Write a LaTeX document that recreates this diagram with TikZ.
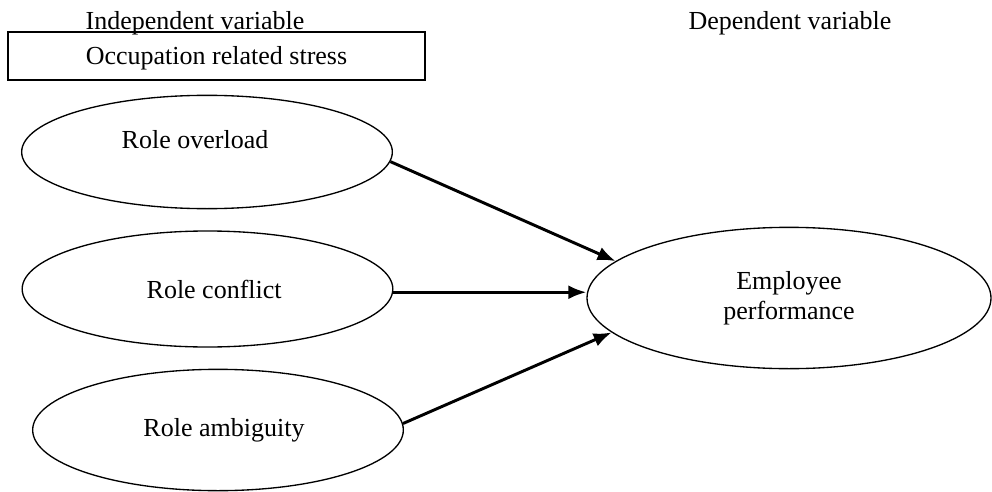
\documentclass[tikz,border=0pt]{standalone}
\usepackage{fontspec}
\setmainfont{Liberation Serif}
\usetikzlibrary{arrows.meta,shapes.geometric}

\begin{document}
\begin{tikzpicture}[x=0.75pt,y=-0.75pt,>={Latex[length=13.5pt,width=10.5pt]},
  every node/.style={font=\fontsize{19.5}{22.5}\selectfont},
  var/.style={draw,ellipse,line width=1pt,inner sep=0pt},
  link/.style={->,line width=2.2pt}]
  \useasboundingbox (0,0) rectangle (992,492);
  % headings
  \node (indep) at (195,23) {Independent variable};
  \node (dep) at (790,23) {Dependent variable};
  \node[draw,line width=1.3pt,minimum width=313pt,minimum height=36pt,text depth=1pt] (stress) at (216.5,56) {Occupation related stress};
  % variables
  \node[var,minimum width=278pt,minimum height=85pt,text depth=19pt] (overload) at (207,152) {Role overload\hspace*{18pt}};
  \node[var,minimum width=278pt,minimum height=87pt] (conflict) at (207.5,289) {\hspace*{10pt}Role conflict};
  \node[var,minimum width=278pt,minimum height=91pt] (ambiguity) at (218,430) {\hspace*{9pt}Role ambiguity};
  \node[var,minimum width=303pt,minimum height=106pt,align=center] (perf) at (789,298) {Employee\\performance};
  % links
  \draw[link] (overload.-3) -- (perf.168);
  \draw[link] (conflict.-1.3) -- (conflict.-1.3 -| perf.west);
  \draw[link] (ambiguity.2) -- (perf.191);
\end{tikzpicture}
\end{document}
